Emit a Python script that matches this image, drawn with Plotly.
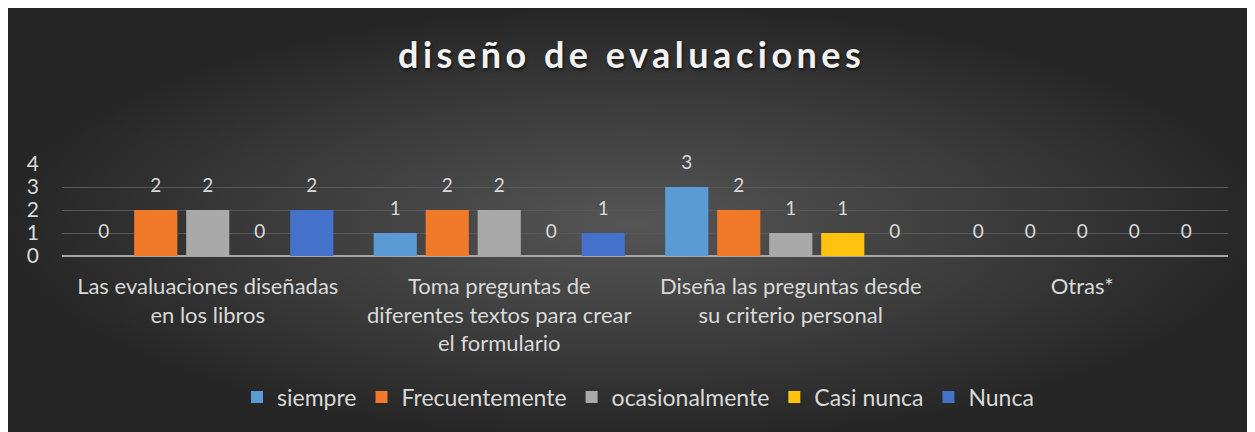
import plotly.graph_objects as go

# ---- data ----
categories = [
    "Las evaluaciones diseñadas<br>en los libros",
    "Toma preguntas de<br>diferentes textos para crear<br>el formulario",
    "Diseña las preguntas desde<br>su criterio personal",
    "Otras*",
]
series_names = ["siempre", "Frecuentemente", "ocasionalmente", "Casi nunca", "Nunca"]
siempre = [0, 1, 3, 0]
frecuentemente = [2, 2, 2, 0]
ocasionalmente = [2, 2, 1, 0]
casi_nunca = [0, 0, 1, 0]
nunca = [2, 1, 0, 0]
series_values = [siempre, frecuentemente, ocasionalmente, casi_nunca, nunca]
y_ticks = [0, 1, 2, 3, 4]

# ---- style ----
colors = ["#5B9BD5", "#F07A2A", "#A9A9A9", "#FFC20E", "#4471C9"]
TXT = "#D9D9D9"
FONT = "Lato"
W, H = 1255, 432
GROUP_FRAC = 0.892   # share of a category used by the group
BAR_FRAC = 0.83      # share of a slot used by a bar
LABEL_OFFSET = 1.0   # data-label offset above bar (axis units)

fig = go.Figure()

# background panel with radial gradient (on full-page axes x/y)
fig.add_trace(go.Scatter(
    x=[0, W, W, 0, 0], y=[0, 0, H, H, 0],
    mode="lines", line=dict(width=0), fill="toself",
    fillgradient=dict(type="radial",
                      colorscale=[[0, "#555555"], [0.6, "#3a3a3a"], [1, "#262626"]]),
    hoverinfo="skip", showlegend=False, xaxis="x", yaxis="y",
))

n = len(series_names)
slot = GROUP_FRAC / n
for j, (name, vals, col) in enumerate(zip(series_names, series_values, colors)):
    xs = [i + (j - (n - 1) / 2) * slot for i in range(len(categories))]
    fig.add_trace(go.Bar(
        x=xs, y=vals, width=slot * BAR_FRAC, name=name,
        marker=dict(color=col, line=dict(width=0)),
        xaxis="x2", yaxis="y2", hoverinfo="skip",
    ))
    fig.add_trace(go.Scatter(
        x=xs, y=[v + LABEL_OFFSET for v in vals], mode="text",
        text=[str(v) for v in vals], textposition="middle center",
        textfont=dict(family=FONT, size=19, color=TXT), cliponaxis=False,
        xaxis="x2", yaxis="y2", showlegend=False, hoverinfo="skip",
    ))

plot_l, plot_r = 54, 1220
plot_top, plot_bot = 156, 248

fig.update_layout(
    width=W, height=H,
    margin=dict(l=0, r=0, t=0, b=0, pad=0, autoexpand=False),
    paper_bgcolor="#2a2a2a",
    plot_bgcolor="rgba(0,0,0,0)",
    hovermode=False,
    showlegend=True,
    title=dict(
        text="<b><span style='letter-spacing:4.5px'>diseño de evaluaciones</span></b>",
        x=0.497, xanchor="center", y=1 - 47 / H, yanchor="middle",
        font=dict(family=FONT, size=36, color="#F2F2F2",
                  shadow="1px 2px 3px rgba(0,0,0,0.6)"),
    ),
    legend=dict(
        orientation="h", x=0.502, xanchor="center", y=1 - 389 / H, yanchor="middle",
        font=dict(family=FONT, size=23, color=TXT),
        bgcolor="rgba(0,0,0,0)", traceorder="normal",
    ),
    xaxis=dict(domain=[0, 1], range=[0, W], visible=False, fixedrange=True),
    yaxis=dict(domain=[0, 1], range=[H, 0], visible=False, fixedrange=True),
    xaxis2=dict(
        domain=[plot_l / W, plot_r / W], anchor="y2",
        range=[-0.5, len(categories) - 0.5],
        tickvals=list(range(len(categories))), ticktext=categories,
        tickfont=dict(family=FONT, size=22, color=TXT),
        showgrid=False, zeroline=False, showline=False, ticks="",
        ticklabelstandoff=15,
    ),
    yaxis2=dict(
        domain=[(H - plot_bot) / H, (H - plot_top) / H], anchor="x2",
        range=[0, 4], tickvals=y_ticks,
        tickfont=dict(family=FONT, size=21, color=TXT),
        showgrid=True, gridcolor="#585858", gridwidth=1,
        zeroline=True, zerolinecolor="#A6A6A6", zerolinewidth=2,
        showline=False, ticks="", ticklabelstandoff=22,
    ),
    barmode="overlay",
)

fig.write_html("out.html")
